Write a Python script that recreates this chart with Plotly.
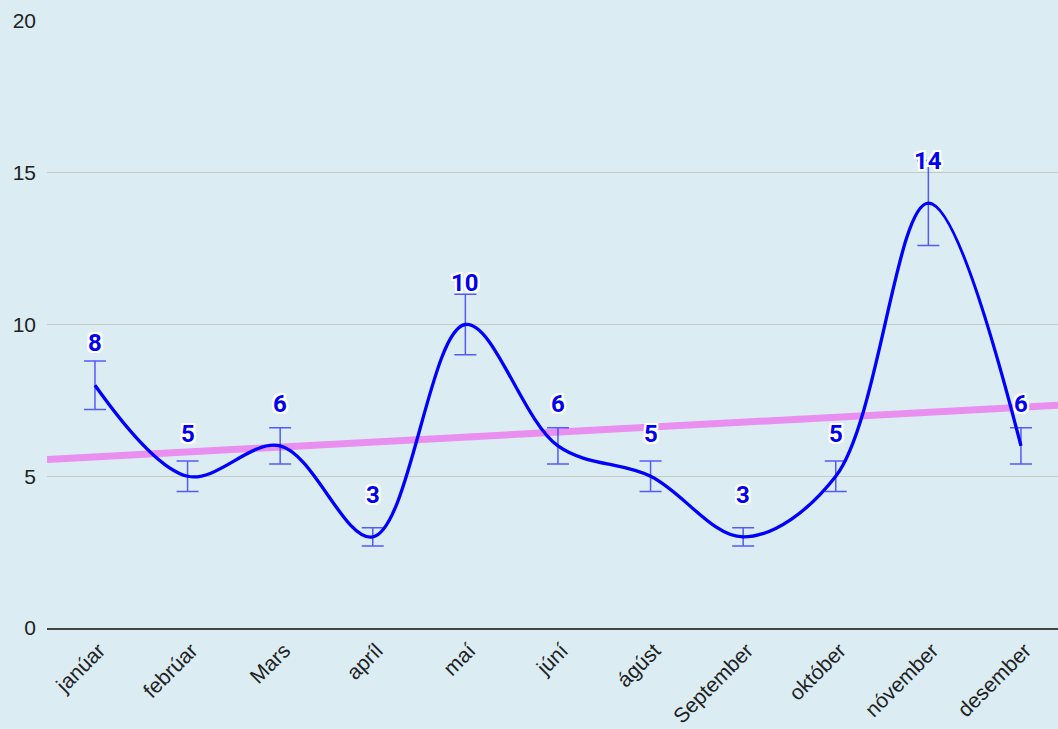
import numpy as np
import plotly.graph_objects as go

months = ["janúar", "febrúar", "Mars", "apríl", "maí", "júní", "ágúst",
          "September", "október", "nóvember", "desember"]
values = [8, 5, 6, 3, 10, 6, 5, 3, 5, 14, 6]
error_pct = 10  # +/- percent
y_ticks = [0, 5, 10, 15, 20]

BG = "#dbedf3"
xi = np.arange(len(values))
slope, intercept = np.polyfit(xi, values, 1)
x_lo, x_hi = -0.518, 10.4

fig = go.Figure()

fig.add_trace(go.Scatter(
    x=[x_lo, x_hi], y=[intercept + slope * x_lo, intercept + slope * x_hi],
    mode="lines", line=dict(color="#e98ff0", width=7), hoverinfo="skip",
    showlegend=False,
))

fig.add_trace(go.Scatter(
    x=xi, y=values, mode="lines",
    line=dict(color="#0000ff", width=3.3, shape="spline", smoothing=1),
    error_y=dict(type="percent", value=error_pct, color="rgba(40,40,255,0.75)",
                 thickness=1.5, width=11),
    showlegend=False,
))

for i, v in enumerate(values):
    fig.add_annotation(
        x=i, y=v, text=f"<b>{v}</b>", showarrow=False, yshift=42,
        font=dict(family="Roboto", size=24, color="#0000ee",
                  shadow="2px 2px 0 white, -2px -2px 0 white, 2px -2px 0 white, -2px 2px 0 white, 0 2px 0 white, 0 -2px 0 white, 2px 0 0 white, -2px 0 0 white"),
    )

fig.update_layout(
    width=1058, height=729,
    paper_bgcolor=BG, plot_bgcolor=BG,
    margin=dict(l=47, r=0, t=21, b=101),
    font=dict(family="Liberation Sans, Arial", size=21, color="#222"),
    xaxis=dict(
        range=[x_lo, x_hi], tickmode="array", tickvals=list(xi), ticktext=months,
        tickangle=-45, showgrid=False, zeroline=False,
        showline=True, linecolor="#444", linewidth=2,
        tickfont=dict(size=21, color="#222"), ticklabelshift=4,
    ),
    yaxis=dict(
        range=[0, 20], tickmode="array", tickvals=y_ticks,
        showgrid=True, gridcolor="#c8c8c8", gridwidth=1.3, zeroline=False,
        tickfont=dict(size=21, color="#222"), ticklabelstandoff=10,
    ),
)

fig.write_html(
    "out.html",
    config={"displayModeBar": False},
    post_script="document.body.style.margin='0';document.body.style.overflow='hidden';",
)
